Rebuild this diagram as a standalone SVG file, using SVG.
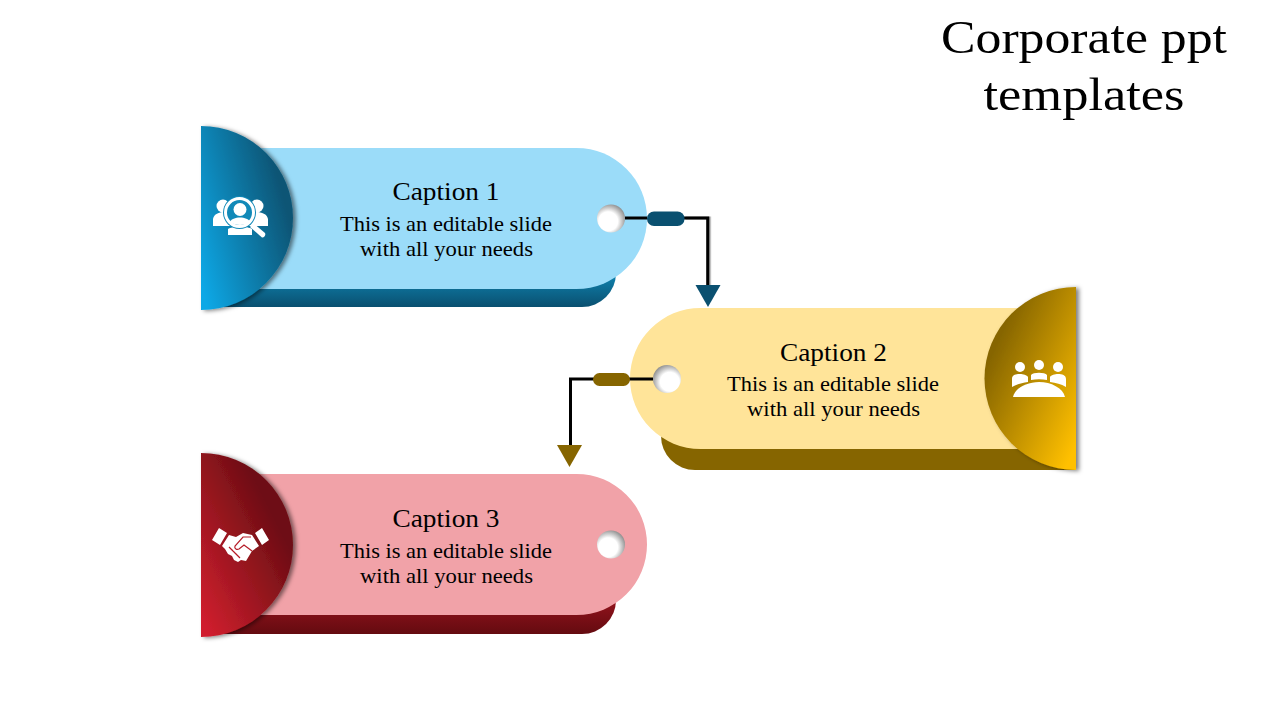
<svg xmlns="http://www.w3.org/2000/svg" width="1280" height="720" viewBox="0 0 1280 720">
<style>
.t{font-family:"Liberation Serif","DejaVu Serif",serif;fill:#000;text-anchor:middle}
.title{font-size:47px}
.cap{font-size:26px}
.body{font-size:22px}
.conn{fill:none;stroke:#000;stroke-width:3}
.ic{fill:#fff}
</style>
<defs>
<filter id="sh" x="-20%" y="-20%" width="140%" height="140%"><feDropShadow dx="3" dy="1" stdDeviation="2.200" flood-color="#000" flood-opacity=".5"/></filter>
<filter id="lineSh" x="-20%" y="-20%" width="140%" height="140%"><feDropShadow dx="1.500" dy="0" stdDeviation=".6" flood-color="#000" flood-opacity=".4"/></filter>
<linearGradient id="bc" gradientUnits="userSpaceOnUse" x1="201" y1="285" x2="300" y2="258"><stop offset="0" stop-color="#0fa8e6"/><stop offset="1" stop-color="#0a5575"/></linearGradient>
<linearGradient id="yc" gradientUnits="userSpaceOnUse" x1="1076" y1="445" x2="972" y2="398"><stop offset="0" stop-color="#ffc000"/><stop offset="1" stop-color="#866500"/></linearGradient>
<linearGradient id="rc" gradientUnits="userSpaceOnUse" x1="201" y1="620" x2="300" y2="570"><stop offset="0" stop-color="#d01f2e"/><stop offset="1" stop-color="#6e0e14"/></linearGradient>
<linearGradient id="bb" x1="0" y1="0" x2="0" y2="1"><stop offset="0" stop-color="#1190c0"/><stop offset="1" stop-color="#0a5070"/></linearGradient>
<linearGradient id="rb" x1="0" y1="0" x2="0" y2="1"><stop offset="0" stop-color="#a01520"/><stop offset="1" stop-color="#640b10"/></linearGradient>
<radialGradient id="h1" cx=".4" cy=".6" r=".68"><stop offset=".5" stop-color="#fff"/><stop offset="1" stop-color="#808080"/></radialGradient>
<radialGradient id="h2" cx=".6" cy=".6" r=".68"><stop offset=".5" stop-color="#fff"/><stop offset="1" stop-color="#808080"/></radialGradient>
</defs>
<rect width="1280" height="720" fill="#fff"/>
<g id="title"><text class="t title" x="1084" y="53" textLength="286" lengthAdjust="spacingAndGlyphs">Corporate ppt</text><text class="t title" x="1084" y="110" textLength="201" lengthAdjust="spacingAndGlyphs">templates</text></g>
<g id="node-1">
<path d="M215 265H616V273A34 34 0 0 1 582 307H215Z" fill="url(#bb)"/>
<path d="M215 148H576.500A70.500 70.500 0 0 1 576.500 289H215Z" fill="#9bdcf9"/>
<circle cx="611" cy="218.500" r="14" fill="url(#h1)"/>
<path d="M201 126A92 92 0 0 1 201 310Z" fill="url(#bc)" filter="url(#sh)"/>
<g class="ic">
<circle cx="223" cy="206" r="6.500"/><circle cx="257" cy="206" r="6.500"/>
<path d="M213 226V219C214 214 219 212 224 212L232 226ZM268 226V219C267 214 262 212 256 212L248 226Z"/>
<path d="M228 235V229C232 226 248 226 252 229V235Z"/>
<circle cx="239.500" cy="212.500" r="16.500" fill="#1189b8"/>
<path d="M250 227L262 237.500C264 238 266 235 265 233L253 223Z"/>
<circle cx="239.500" cy="212.500" r="14" fill="none" stroke="#fff" stroke-width="3"/>
<circle cx="240" cy="209.500" r="6.500"/>
<path d="M230 222C232 216 248 216 250 222C245 226 235 226 230 222Z"/>
</g>
<text class="t cap" x="446" y="200" textLength="107" lengthAdjust="spacingAndGlyphs">Caption 1</text>
<text class="t body" x="446" y="231" textLength="212" lengthAdjust="spacingAndGlyphs">This is an editable slide</text>
<text class="t body" x="446.500" y="256" textLength="173" lengthAdjust="spacingAndGlyphs">with all your needs</text>
</g>
<g id="node-2">
<path d="M1076 420H661V436A34 34 0 0 0 695 470H1076Z" fill="#866500"/>
<path d="M1040 308H700.500A70.500 70.500 0 0 0 700.500 449H1040Z" fill="#ffe499"/>
<circle cx="667" cy="379" r="14" fill="url(#h2)"/>
<path d="M1076 287A91.500 91.500 0 0 0 1076 470Z" fill="url(#yc)" filter="url(#sh)"/>
<g class="ic">
<circle cx="1020" cy="367" r="5"/><circle cx="1039" cy="365" r="5"/><circle cx="1058" cy="367" r="5"/>
<path d="M1012 387V379C1012 375 1016 374 1020 374C1023 374 1027 375 1028 377V382C1022 383 1017 384 1012 387ZM1031 380V375C1033 372 1045 372 1047 375V380C1042 379 1036 379 1031 380ZM1066 387V379C1066 375 1062 374 1058 374C1055 374 1051 375 1050 377V382C1056 383 1061 384 1066 387Z"/>
<path d="M1013 397C1015 388 1027 382 1039 382C1051 382 1063 388 1065 397Z"/>
</g>
<text class="t cap" x="833.500" y="361" textLength="107" lengthAdjust="spacingAndGlyphs">Caption 2</text>
<text class="t body" x="833" y="391" textLength="212" lengthAdjust="spacingAndGlyphs">This is an editable slide</text>
<text class="t body" x="833.500" y="416" textLength="173" lengthAdjust="spacingAndGlyphs">with all your needs</text>
</g>
<g id="node-3">
<path d="M215 590H616V600A34 34 0 0 1 582 634H215Z" fill="url(#rb)"/>
<path d="M215 474H576.500A70.500 70.500 0 0 1 576.500 615H215Z" fill="#f1a2a8"/>
<circle cx="611" cy="544.500" r="14" fill="url(#h1)"/>
<path d="M201 453A92 92 0 0 1 201 637Z" fill="url(#rc)" filter="url(#sh)"/>
<g class="ic">
<path d="M212 540L219 528L227 533L220 545ZM255 533L262 528L269 540L262 545Z"/>
<path d="M229 535L236 537L243 533L252 535L259 546L252 551L246 561L241 560L238 562L234 560L232 556L228 554L225 549L222 546Z"/>
<path d="M251 537H243L235 546C234 549 237 550 239 549L244 545L252 551M229 547L233 551M232 550L237 555M236 554L240 558" fill="none" stroke="#b51b27" stroke-width="1.200"/>
</g>
<text class="t cap" x="446" y="527" textLength="107" lengthAdjust="spacingAndGlyphs">Caption 3</text>
<text class="t body" x="446" y="558" textLength="212" lengthAdjust="spacingAndGlyphs">This is an editable slide</text>
<text class="t body" x="446.500" y="583" textLength="173" lengthAdjust="spacingAndGlyphs">with all your needs</text>
</g>
<g id="connectors">
<polyline class="conn" points="625,218 647,218"/>
<polyline class="conn" filter="url(#lineSh)" points="684,218 707.700,218 707.700,290"/>
<rect x="647" y="211.500" width="37.500" height="14.500" rx="7" fill="#0a5070"/>
<polygon points="695.500,285 720.500,285 708,307" fill="#0a5070"/>
<polyline class="conn" points="653,379 570.500,379 570.500,450"/>
<rect x="593" y="373" width="37" height="13" rx="6.500" fill="#866500"/>
<polygon points="557,445 582,445 569.500,467" fill="#866500"/>
</g>
</svg>
